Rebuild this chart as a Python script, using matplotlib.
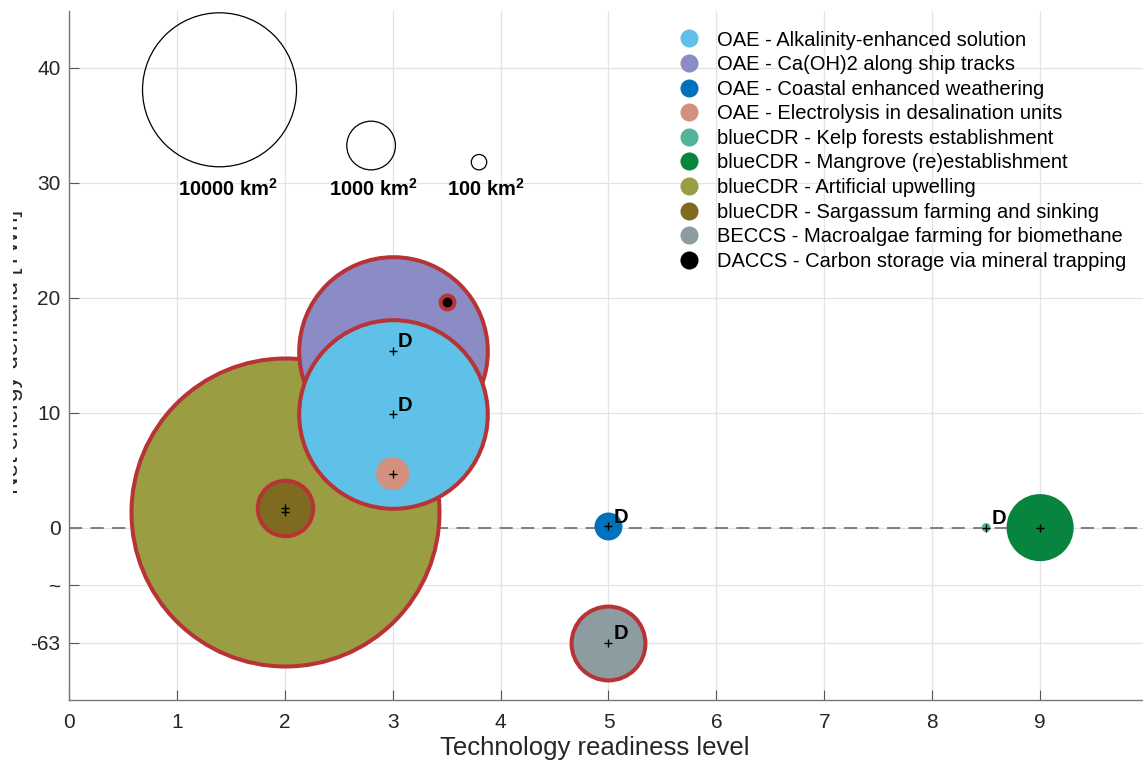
import numpy as np
import matplotlib
matplotlib.use("Agg")
import matplotlib.pyplot as plt
from matplotlib.lines import Line2D
from matplotlib.transforms import Bbox, TransformedBbox

plt.rcParams['font.family'] = ['Liberation Sans', 'DejaVu Sans']
plt.rcParams['mathtext.fontset'] = 'custom'
plt.rcParams['mathtext.rm'] = 'Liberation Sans'
plt.rcParams['mathtext.bf'] = 'Liberation Sans:bold'
plt.rcParams['lines.scale_dashes'] = False

# ---------------- data ----------------
methods = [
    "OAE - Alkalinity-enhanced solution",
    "OAE - Ca(OH)2 along ship tracks",
    "OAE - Coastal enhanced weathering",
    "OAE - Electrolysis in desalination units",
    "blueCDR - Kelp forests establishment",
    "blueCDR - Mangrove (re)establishment",
    "blueCDR - Artificial upwelling",
    "blueCDR - Sargassum farming and sinking",
    "BECCS - Macroalgae farming for biomethane",
    "DACCS - Carbon storage via mineral trapping",
]
trl = [3, 3, 5, 3, 8.5, 9, 2, 2, 5, 3.5]
energy_twh = [9.9, 15.4, 0.1, 4.7, 0.0, 0.0, 1.35, 1.75, -63, 19.6]
area_km2 = [15000, 15000, 330, 460, 35, 1900, 40000, 1300, 2300, 80]
demo_flag = [True, True, True, False, True, False, False, False, True, False]
red_edge = [True, True, False, False, False, False, True, True, True, True]
colors = ["#5FC1E7", "#8B8BC6", "#0072BD", "#D4907F", "#52B498",
          "#07853F", "#9B9D42", "#7E6B1F", "#8C9CA0", "#000000"]

ref_areas = [10000, 1000, 100]
ref_labels = [r"10000 km$^{\mathbf{2}}$", r"1000 km$^{\mathbf{2}}$", r"100 km$^{\mathbf{2}}$"]

xticks = [0, 1, 2, 3, 4, 5, 6, 7, 8, 9]
yticks = [-63, -31.5, 0, 10, 20, 30, 40]
yticklabels = ["-63", "~", "0", "10", "20", "30", "40"]

# ---------------- style ----------------
SIZE_K = 1.2294          # points^2 per km^2
EDGE_RED = "#B83335"
NEG_COMPRESS = 10 / 63.0  # broken-axis compression of negative values

def fwd(y):
    y = np.asarray(y, dtype=float)
    return np.where(y < 0, y * NEG_COMPRESS, y)

def inv(y):
    y = np.asarray(y, dtype=float)
    return np.where(y < 0, y / NEG_COMPRESS, y)

W, H = 1143, 764
fig = plt.figure(figsize=(W / 100, H / 100), dpi=100)
ax = fig.add_axes([69 / W, 1 - 700 / H, 1079 / W, (700 - 10.5) / H])
ax.set_yscale('function', functions=(fwd, inv))
ax.set_xlim(0, 10)
ax.set_ylim(-15 / NEG_COMPRESS, 45)

ax.set_axisbelow(True)
ax.grid(True, color="#E3E3E3", lw=0.9)
ax.set_xticks(xticks)
ax.set_yticks(yticks)
ax.set_yticklabels(yticklabels)
ax.tick_params(direction='in', length=7, width=0.8, color="#555555",
               labelsize=15, labelcolor="#262626")
ax.tick_params(axis='x', pad=9)
ax.tick_params(axis='y', pad=6)
for s in ['top', 'right']:
    ax.spines[s].set_visible(False)
for s in ['left', 'bottom']:
    ax.spines[s].set_color("#777777")
    ax.spines[s].set_linewidth(1.0)

ax.axhline(0, color="#7F7F7F", lw=1.4, ls=(0, (9.5, 6)), zorder=1)

# larger bubbles underneath; for equal sizes, earlier legend entries on top
order = sorted(range(len(methods)), key=lambda i: (-area_km2[i], -i))
for rank, i in enumerate(order):
    ax.scatter([trl[i]], [energy_twh[i]], s=area_km2[i] * SIZE_K, c=colors[i],
               edgecolors=EDGE_RED if red_edge[i] else 'none',
               linewidths=2.9 if red_edge[i] else 0, zorder=2 + rank * 0.1)

ax.scatter(trl, energy_twh, marker='+', c='k', s=40, linewidths=1.0, zorder=10)
for i in range(len(methods)):
    if demo_flag[i]:
        ax.annotate("D", (trl[i], energy_twh[i]), xytext=(3.6, 2.4),
                    textcoords='offset points', ha='left', va='baseline',
                    fontsize=14.5, fontweight='bold', zorder=11)

# size reference circles
ref_x = [1.395, 2.80, 3.80]
ref_y = [38.1, 33.25, 31.8]
lab_x = [1.47, 2.82, 3.865]
for a, xx, yy, lx, lab in zip(ref_areas, ref_x, ref_y, lab_x, ref_labels):
    ax.scatter([xx], [yy], s=a * SIZE_K, facecolors='none', edgecolors='k',
               linewidths=0.9, zorder=3)
    ax.text(lx, 28.9, lab, ha='center', va='baseline', fontsize=14.5,
            fontweight='bold', zorder=4)

handles = [Line2D([], [], ls='none', marker='o', markersize=13,
                  markerfacecolor=c, markeredgecolor='none') for c in colors]
leg = fig.legend(handles, methods, loc='upper left',
                 bbox_to_anchor=(679.3 / W, 1 - 30.5 / H),
                 bbox_transform=fig.transFigure, frameon=False, fontsize=14.5,
                 borderpad=0, borderaxespad=0, handlelength=1.0,
                 handletextpad=0.88, labelspacing=0.277)

ax.set_xlabel("Technology readiness level", fontsize=18.5, color="#262626")
ax.xaxis.set_label_coords((595 - 69) / 1079, -(748 - 700) / (700 - 10.5))
ax.xaxis.label.set_va('center')
t = fig.text(23 / W, 1 - 352 / H, "Net energy demand [TWh]", rotation=90,
             ha='right', va='center', fontsize=17.5, color="#262626")
t.set_clip_box(TransformedBbox(Bbox([[12.7 / W, 0], [1, 1]]), fig.transFigure))
t.set_clip_on(True)

fig.savefig("out.png", dpi=100)
